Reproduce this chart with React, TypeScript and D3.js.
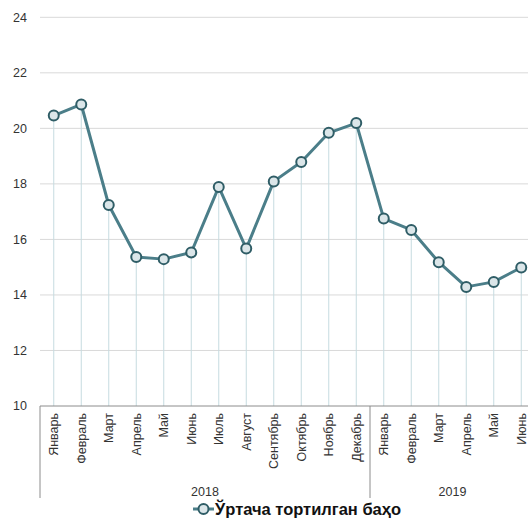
import React from "react";
import * as d3 from "d3";

const months = ["Январь","Февраль","Март","Апрель","Май","Июнь","Июль","Август","Сентябрь","Октябрь","Ноябрь","Декабрь","Январь","Февраль","Март","Апрель","Май","Июнь"];
const years = ["2018","2019"];
const yearCounts = [12, 6];
const values = [20.46, 20.86, 17.24, 15.37, 15.29, 15.53, 17.89, 15.67, 18.09, 18.79, 19.84, 20.19, 16.75, 16.34, 15.18, 14.29, 14.47, 14.99];
const yTicks = [10, 12, 14, 16, 18, 20, 22, 24];
const legendLabel = "Ўртача тортилган баҳо";

export default function App() {
  const W = 528, H = 524;
  const x0 = 40, x1 = 535;
  const x = d3.scaleBand<number>().domain(d3.range(values.length)).range([x0, x1]).padding(0);
  const y = d3.scaleLinear().domain([10, 24]).range([406, 17.3]);
  const cx = (i: number) => (x(i) as number) + x.bandwidth() / 2;
  const line = d3.line<number>().x((_, i) => cx(i)).y((d) => y(d));
  const font = "'Liberation Sans', Arial, sans-serif";
  const bottom = 498;
  let acc = 0;
  const groups = yearCounts.map((c, gi) => {
    const start = acc;
    acc += c;
    return { label: years[gi], start, end: acc };
  });
  const lineColor = "#4b7e89";
  const markStroke = "#2f5d66";
  const markFill = "#dbe6e9";
  return (
    <svg width={W} height={H} style={{ position: "absolute", left: 0, top: 0 }}>
      <rect width={W} height={H} fill="#fff" />
      {yTicks.map((t) => (
        <g key={t}>
          {t !== 10 && <line x1={x0} x2={W} y1={y(t)} y2={y(t)} stroke="#d9d9d9" strokeWidth={1} />}
          <text x={27} y={y(t)} dy="0.35em" textAnchor="end" fontFamily={font} fontSize={12.5} fill="#333">{t}</text>
        </g>
      ))}
      {values.map((v, i) => (
        <line key={i} x1={cx(i)} x2={cx(i)} y1={y(v)} y2={y(10)} stroke="#c6dbe0" strokeWidth={1} />
      ))}
      <line x1={x0} x2={W} y1={y(10)} y2={y(10)} stroke="#8c8c8c" strokeWidth={1} />
      {groups.map((g, gi) => (
        <g key={gi}>
          <line x1={x(g.start) as number} x2={x(g.start) as number} y1={y(10)} y2={bottom} stroke="#8c8c8c" strokeWidth={1} />
          <text x={((x(g.start) as number) + (g.end < values.length ? (x(g.end) as number) : x1)) / 2} y={492} dy="0.35em" textAnchor="middle" fontFamily={font} fontSize={12.5} fill="#333">{g.label}</text>
        </g>
      ))}
      {months.map((m, i) => (
        <text key={i} transform={`translate(${cx(i) + 4.5},${413}) rotate(-90)`} textAnchor="end" fontFamily={font} fontSize={12.5} fill="#333">{m}</text>
      ))}
      <path d={line(values) || ""} fill="none" stroke={lineColor} strokeWidth={3} strokeLinejoin="round" />
      {values.map((v, i) => (
        <circle key={i} cx={cx(i)} cy={y(v)} r={5} fill={markFill} stroke={markStroke} strokeWidth={2} />
      ))}
      <g>
        <line x1={193} x2={214} y1={509} y2={509} stroke={lineColor} strokeWidth={3} />
        <circle cx={203.5} cy={509} r={5} fill={markFill} stroke={markStroke} strokeWidth={2} />
        <text x={215} y={514.5} fontFamily={font} fontSize={16.5} fontWeight="bold" fill="#111">{legendLabel}</text>
      </g>
    </svg>
  );
}
